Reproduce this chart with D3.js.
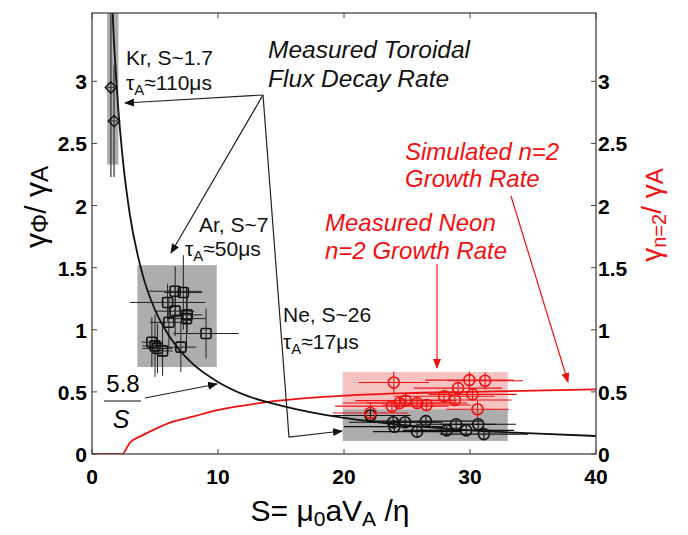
<!DOCTYPE html>
<html>
<head>
<meta charset="utf-8">
<script src="https://cdn.jsdelivr.net/npm/d3@7"></script>
<style>
  body { margin: 0; background: #fff; }
  text { font-family: "Liberation Sans", Arial, Helvetica, sans-serif; }
</style>
</head>
<body>
<svg id="chart" width="688" height="535"></svg>
<script>
/*
  Toroidal flux decay rate vs Lundquist number S,
  with measured / simulated n=2 growth rate (red, right axis)
*/

// axis ticks
const xTicks = [0, 10, 20, 30, 40];
const yTicks = [0, 0.5, 1, 1.5, 2, 2.5, 3];

// 5.8/S curve
const fitS = [1.5, 1.7, 2, 2.5, 3, 4, 5, 6, 7, 8, 10, 12, 15, 20, 25, 30, 35, 40];
const fitY = [3.87, 3.41, 2.9, 2.32, 1.93, 1.45, 1.16, 0.97, 0.83, 0.725, 0.58, 0.48, 0.39, 0.29, 0.23, 0.19, 0.166, 0.145];

// simulated n=2 growth rate (red line)
const simS = [0, 1, 2.4, 3, 4, 5, 6.4, 8, 9.4, 12, 14, 17, 20, 25, 30, 35, 40];
const simY = [0, 0, 0, 0.09, 0.15, 0.2, 0.26, 0.3, 0.34, 0.39, 0.42, 0.45, 0.47, 0.49, 0.5, 0.51, 0.52];

// shaded regions: [S0, S1, y0, y1]
const grayBoxes = [[1.2, 2.1, 2.33, 3.6], [3.6, 9.9, 0.7, 1.52], [19.9, 33, 0.105, 0.36]];
const pinkBoxes = [[19.9, 33, 0.36, 0.66]];

// measured points: [S, y, xErr, yErr]
const krPoints = [[1.5, 2.95, 0.3, 0.72], [1.75, 2.68, 0.3, 0.45]];
const arPoints = [
  [6.6, 1.31, 2.1, 0.2], [7.25, 1.3, 1.5, 0.3], [6.0, 1.22, 3.0, 0.15],
  [6.6, 1.15, 1.5, 0.2], [7.55, 1.12, 1.2, 0.15], [6.1, 1.06, 1.5, 0.2],
  [7.5, 1.09, 1.5, 0.25], [9.05, 0.97, 2.6, 0.2], [4.75, 0.9, 0.8, 0.2],
  [5.0, 0.87, 1.0, 0.25], [5.2, 0.85, 1.2, 0.2], [5.6, 0.83, 0.8, 0.2],
  [7.05, 0.86, 1.2, 0.2]
];
const neBlack = [
  [22.1, 0.31, 3.2, 0.05], [23.9, 0.255, 3.5, 0.05], [24.0, 0.22, 4.0, 0.04],
  [24.85, 0.255, 3.0, 0.04], [26.5, 0.265, 4.5, 0.05], [25.8, 0.18, 3.5, 0.04],
  [28.15, 0.19, 3.5, 0.04], [28.9, 0.24, 3.2, 0.04], [29.7, 0.19, 3.8, 0.04],
  [30.65, 0.24, 3.0, 0.05], [31.1, 0.16, 3.5, 0.04]
];
const neRed = [
  [23.95, 0.575, 2.8, 0.09], [29.95, 0.595, 3.5, 0.07], [31.2, 0.59, 3.0, 0.07],
  [29.05, 0.53, 3.5, 0.05], [27.95, 0.465, 4.0, 0.05], [28.8, 0.435, 4.5, 0.05],
  [30.2, 0.48, 3.5, 0.05], [24.9, 0.43, 4.0, 0.05], [24.4, 0.41, 4.5, 0.05],
  [25.8, 0.41, 4.0, 0.04], [26.55, 0.395, 3.5, 0.05], [23.8, 0.385, 4.5, 0.05],
  [30.6, 0.36, 2.5, 0.07], [22.1, 0.33, 3.0, 0.08]
];

const svg = d3.select('#chart');
const margin = { left: 92, right: 596, top: 13, bottom: 454 };

const x = d3.scaleLinear().domain([0, 40]).range([margin.left, margin.right]);
const y = d3.scaleLinear().domain([0, 3.55]).range([margin.bottom, margin.top]);

const RED = '#ee1111';
const RED_TEXT = '#f41010';

svg.append('defs').append('clipPath').attr('id', 'plot')
  .append('rect')
  .attr('x', margin.left).attr('y', margin.top)
  .attr('width', margin.right - margin.left)
  .attr('height', margin.bottom - margin.top);

['black', 'red'].forEach(c => {
  svg.select('defs').append('marker')
    .attr('id', 'arrow-' + c)
    .attr('viewBox', '0 0 10 10')
    .attr('refX', 9).attr('refY', 5)
    .attr('markerWidth', 10).attr('markerHeight', 10)
    .attr('markerUnits', 'userSpaceOnUse')
    .attr('orient', 'auto')
    .append('path')
    .attr('d', 'M0,1 L10,5 L0,9 Z')
    .attr('fill', c === 'red' ? RED : '#111');
});

const plot = svg.append('g').attr('clip-path', 'url(#plot)');

// shaded boxes
function drawBoxes(boxes, color) {
  plot.selectAll(null).data(boxes).enter().append('rect')
    .attr('x', d => x(d[0]))
    .attr('width', d => x(d[1]) - x(d[0]))
    .attr('y', d => y(d[3]))
    .attr('height', d => y(d[2]) - y(d[3]))
    .attr('fill', color);
}
drawBoxes(pinkBoxes, '#f6c3c3');
drawBoxes(grayBoxes, '#adadad');

// curves
const line = d3.line().x(d => x(d[0])).y(d => y(d[1])).curve(d3.curveMonotoneX);

plot.append('path')
  .datum(simS.map((s, i) => [s, simY[i]]))
  .attr('d', line).attr('fill', 'none')
  .attr('stroke', RED).attr('stroke-width', 1.8);

// error bars
function drawErrors(points, color, width) {
  const g = plot.append('g').attr('stroke', color).attr('stroke-width', width);
  points.forEach(p => {
    g.append('line')
      .attr('x1', x(p[0] - p[2])).attr('x2', x(p[0] + p[2]))
      .attr('y1', y(p[1])).attr('y2', y(p[1]));
    g.append('line')
      .attr('x1', x(p[0])).attr('x2', x(p[0]))
      .attr('y1', y(p[1] - p[3])).attr('y2', y(p[1] + p[3]));
  });
}
drawErrors(neRed, RED, 1.1);
drawErrors(neBlack, '#111', 1.1);
drawErrors(arPoints, '#222', 1);
drawErrors(krPoints, '#333', 1.2);

plot.append('path')
  .datum(fitS.map((s, i) => [s, fitY[i]]))
  .attr('d', line).attr('fill', 'none')
  .attr('stroke', '#111').attr('stroke-width', 1.8);

// markers
plot.selectAll(null).data(krPoints).enter().append('path')
  .attr('d', d3.symbol(d3.symbolDiamond2, 80))
  .attr('transform', d => `translate(${x(d[0])},${y(d[1])})`)
  .attr('fill', 'none').attr('stroke', '#111').attr('stroke-width', 1.5);

plot.selectAll(null).data(arPoints).enter().append('rect')
  .attr('x', d => x(d[0]) - 5).attr('y', d => y(d[1]) - 5)
  .attr('width', 10).attr('height', 10).attr('rx', 1.5)
  .attr('fill', 'none').attr('stroke', '#111').attr('stroke-width', 1.6);

plot.selectAll(null).data(neBlack).enter().append('circle')
  .attr('cx', d => x(d[0])).attr('cy', d => y(d[1])).attr('r', 5.5)
  .attr('fill', 'none').attr('stroke', '#111').attr('stroke-width', 1.6);

plot.selectAll(null).data(neRed).enter().append('circle')
  .attr('cx', d => x(d[0])).attr('cy', d => y(d[1])).attr('r', 5.5)
  .attr('fill', 'none').attr('stroke', RED).attr('stroke-width', 1.6);

/*
 * Axes: matlab style box with inward ticks
 */
const axisColor = '#444';
const frame = svg.append('g').attr('stroke', axisColor).attr('fill', 'none');
frame.append('rect')
  .attr('x', margin.left).attr('y', margin.top)
  .attr('width', margin.right - margin.left)
  .attr('height', margin.bottom - margin.top)
  .attr('stroke-width', 1.3);

const TICK = 5;
xTicks.forEach(t => {
  frame.append('line').attr('x1', x(t)).attr('x2', x(t))
    .attr('y1', margin.bottom).attr('y2', margin.bottom - TICK);
  frame.append('line').attr('x1', x(t)).attr('x2', x(t))
    .attr('y1', margin.top).attr('y2', margin.top + TICK);
});
yTicks.forEach(t => {
  frame.append('line').attr('x1', margin.left).attr('x2', margin.left + TICK)
    .attr('y1', y(t)).attr('y2', y(t));
  frame.append('line').attr('x1', margin.right).attr('x2', margin.right - TICK)
    .attr('y1', y(t)).attr('y2', y(t));
});

const tickFont = { size: 21, weight: 'bold' };
svg.append('g').selectAll('text').data(xTicks).enter().append('text')
  .attr('x', d => x(d)).attr('y', margin.bottom + 30)
  .attr('text-anchor', 'middle')
  .attr('font-size', tickFont.size).attr('font-weight', tickFont.weight)
  .text(d => d);

svg.append('g').selectAll('text').data(yTicks).enter().append('text')
  .attr('x', margin.left - 5).attr('y', d => y(d) + 8)
  .attr('text-anchor', 'end')
  .attr('font-size', tickFont.size).attr('font-weight', tickFont.weight)
  .text(d => d);

svg.append('g').selectAll('text').data(yTicks).enter().append('text')
  .attr('x', margin.right + 2).attr('y', d => y(d) + 8)
  .attr('text-anchor', 'start')
  .attr('font-size', tickFont.size).attr('font-weight', tickFont.weight)
  .text(d => d);

// axis titles
const xTitle = svg.append('text')
  .attr('x', 330).attr('y', 521)
  .attr('text-anchor', 'middle').attr('font-size', 30);
xTitle.append('tspan').text('S= μ');
xTitle.append('tspan').attr('font-size', 21).attr('dy', 5).text('0');
xTitle.append('tspan').attr('dy', -5).text('aV');
xTitle.append('tspan').attr('font-size', 21).attr('dy', 5).text('A');
xTitle.append('tspan').attr('dy', -5).text(' /η');

const yTitle = svg.append('text')
  .attr('transform', 'translate(46,207) rotate(-90)')
  .attr('text-anchor', 'middle').attr('font-size', 30);
yTitle.append('tspan').text('γ');
yTitle.append('tspan').attr('font-size', 24).attr('dy', 2).text('Φ');
yTitle.append('tspan').attr('dy', -2).text('/ γ');
yTitle.append('tspan').attr('font-size', 24).attr('dy', 2).text('A');

const y2Title = svg.append('text')
  .attr('transform', 'translate(661,215) rotate(-90)')
  .attr('text-anchor', 'middle').attr('font-size', 28).attr('fill', RED_TEXT);
y2Title.append('tspan').text('γ');
y2Title.append('tspan').attr('font-size', 20).attr('dy', 5).text('n=2');
y2Title.append('tspan').attr('dy', -5).text('/ γ');
y2Title.append('tspan').attr('font-size', 24).attr('dy', 2).text('A');

/*
 * Annotations
 */
const notes = svg.append('g');

function tauLabel(xp, yp, value) {
  const t = notes.append('text').attr('x', xp).attr('y', yp)
    .attr('font-size', 21).attr('fill', '#111');
  t.append('tspan').text('τ');
  t.append('tspan').attr('font-size', 15).attr('dy', 5).text('A');
  t.append('tspan').attr('dy', -5).text('≈' + value + 'μs');
}
function plain(xp, yp, str, opts = {}) {
  return notes.append('text').attr('x', xp).attr('y', yp)
    .attr('font-size', opts.size || 21)
    .attr('font-style', opts.italic ? 'italic' : null)
    .attr('fill', opts.color || '#111')
    .text(str);
}

plain(126, 65, 'Kr, S~1.7');
tauLabel(126, 90, '110');
plain(199, 232, 'Ar, S~7');
tauLabel(185, 256, '50');
plain(283, 322, 'Ne, S~26');
tauLabel(283, 349, '17');

plain(268, 58, 'Measured Toroidal', { size: 24.5, italic: true });
plain(268, 87, 'Flux Decay Rate', { size: 24.5, italic: true });
plain(405, 160, 'Simulated n=2', { size: 24, italic: true, color: RED_TEXT });
plain(405, 187, 'Growth Rate', { size: 24, italic: true, color: RED_TEXT });
plain(325, 231, 'Measured Neon', { size: 24, italic: true, color: RED_TEXT });
plain(325, 259, 'n=2 Growth Rate', { size: 24, italic: true, color: RED_TEXT });

// 5.8 / S fraction
notes.append('text').attr('x', 123).attr('y', 392).attr('text-anchor', 'middle')
  .attr('font-family', '"Liberation Serif", "Times New Roman", serif')
  .attr('font-size', 24).text('5.8');
notes.append('line').attr('x1', 104).attr('x2', 141).attr('y1', 401).attr('y2', 401)
  .attr('stroke', '#111').attr('stroke-width', 1.2);
notes.append('text').attr('x', 121).attr('y', 428).attr('text-anchor', 'middle')
  .attr('font-family', '"Liberation Serif", "Times New Roman", serif')
  .attr('font-style', 'italic').attr('font-size', 25).text('S');

// arrows
function arrow(pts, color) {
  notes.append('path')
    .attr('d', d3.line()(pts))
    .attr('fill', 'none')
    .attr('stroke', color === 'red' ? RED : '#222')
    .attr('stroke-width', 1.2)
    .attr('marker-end', `url(#arrow-${color})`);
}
arrow([[263, 95], [125, 103]], 'black');
arrow([[263, 95], [171, 253]], 'black');
arrow([[263, 95], [289, 437], [342, 431]], 'black');
arrow([[145, 398], [217, 384]], 'black');
arrow([[511, 196], [568, 382]], 'red');
arrow([[437, 264], [437, 368]], 'red');
</script>
</body>
</html>
